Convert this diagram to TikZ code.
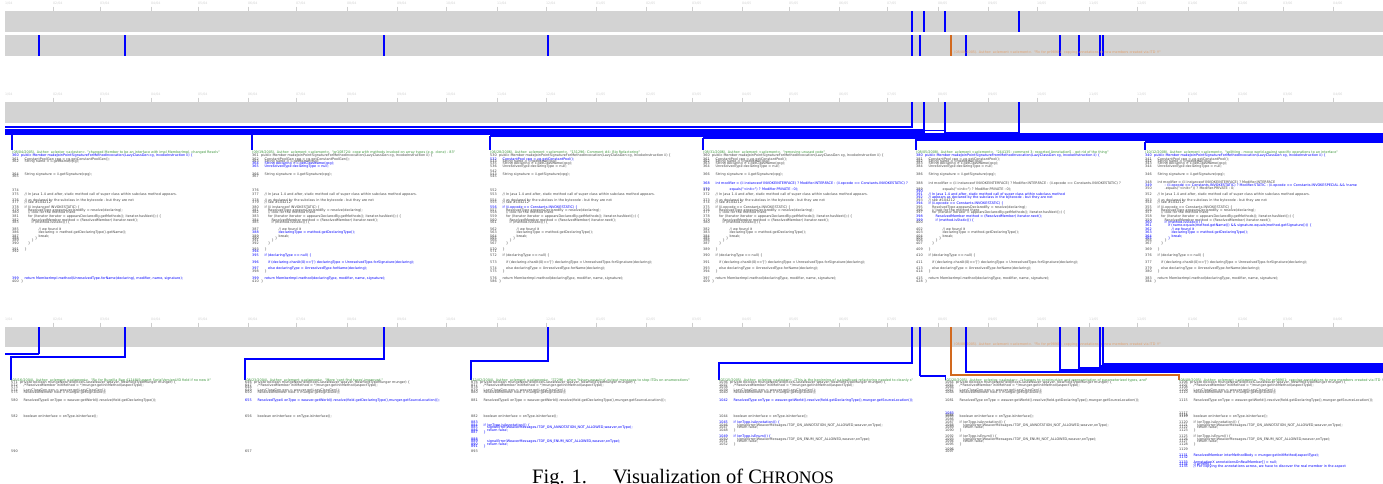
\documentclass[tikz,border=0pt]{standalone}
\usepackage{fontspec}
\setmainfont{Liberation Serif}
\newfontfamily\dejavu{DejaVu Sans}
\definecolor{bargray}{RGB}{211,211,211}
\definecolor{tickgray}{RGB}{205,205,205}
\definecolor{labgray}{RGB}{210,210,210}
\definecolor{codegray}{RGB}{70,70,70}
\definecolor{codeblue}{RGB}{0,0,255}
\definecolor{headgreen}{RGB}{60,150,60}
\definecolor{commitorange}{RGB}{210,105,30}
\definecolor{orangetext}{RGB}{225,160,110}
\newcommand\codefont{\dejavu\fontsize{3.4}{3.4}\selectfont}
\newcommand\labfont{\dejavu\fontsize{3.2}{3.2}\selectfont}
\tikzset{
 cnum/.style={anchor=base west,inner sep=0pt,font=\codefont,text=codegray},
 chead/.style={anchor=base west,inner sep=0pt,font=\codefont,text=headgreen},
 tlab/.style={anchor=base west,inner sep=0pt,font=\labfont,text=labgray},
 bar/.style={fill=bargray,draw=none},
 tickmark/.style={draw=tickgray,line width=1pt},
 commit/.style={draw=codeblue,line width=2pt},
 thincommit/.style={draw=codeblue,line width=1.2pt},
 ocommit/.style={draw=commitorange,line width=2pt},
 band/.style={fill=codeblue,draw=none},
}
\newcommand\cgl[4]{\node[cnum] at (\panx,#1) {#2};\node[cnum] at ({\panx+\pano+3.5*#3},#1) {#4};}
\newcommand\cbl[4]{\node[cnum,text=codeblue] at (\panx,#1) {#2};\node[cnum,text=codeblue] at ({\panx+\pano+3.5*#3},#1) {#4};}
\newcommand\chd[2]{\node[chead] at (\panx,#1) {#2};}
\newcommand\timeaxis[3]{%
 \node[tlab] at (5,#1) {1/04};
 \foreach \xx/\mm/\yy in {53/02/04,100/03/04,151/04/04,198/05/04,248/06/04,296/07/04,347/08/04,397/09/04,446/10/04,497/11/04,546/12/04,596/01/05,646/02/05,692/03/05,742/04/05,789/05/05,839/06/05,887/07/05,938/08/05,988/09/05,1037/10/05,1089/11/05,1137/12/05,1188/01/06,1238/02/06,1283/03/06,1333/04/06}{
  \draw[tickmark] (\xx,#2) -- (\xx,#3);
  \node[tlab] at (\xx,#1) {\mm/\yy};
 }}
\begin{document}
\begin{tikzpicture}[x=1pt,y=-1pt]
\useasboundingbox[fill=white] (0,0) rectangle (1383,483);
% ---------------- top overview ----------------
\timeaxis{4.5}{6.7}{11}
\fill[bar] (5,11) rectangle (1383,32);
\fill[bar] (5,35) rectangle (1383,56);
\foreach \c in {912,924,945,1019} \draw[commit] (\c,11) -- (\c,32);
\foreach \c in {39,125,384,548,912,920,966,1060,1079,1100,1103} \draw[commit] (\c,35) -- (\c,56);
\draw[ocommit] (951,35) -- (951,56);
\node[cnum,text=orangetext] (olab1) at (954,53.5) {(08/08/2005). Author: aclement <aclement>. "Fix for pr98901: copying annotations to new members created via ITD !!"};
% ---------------- middle section ----------------
\timeaxis{95.5}{97.5}{102}
\fill[bar] (5,102) rectangle (1383,123);
\draw[thincommit] (912,102) |- (5,127);
\fill[band] (5,129) rectangle (925,135);
\fill[band] (490,135) rectangle (925,137.3);
\fill[band] (703,137.3) rectangle (944,139.3);
\fill[band] (915,133) rectangle (1383,140.7);
\fill[band] (1145,140.7) rectangle (1383,142.7);
\draw[commit] (924,102) -- (924,131);
\draw[thincommit] (924,130.5) -- (945,130.5);
\draw[commit] (945,102) -- (945,134);
\draw[thincommit] (945,132.3) -- (1019,132.3);
\draw[commit] (1019,102) -- (1019,134);
\draw[commit] (12,134) -- (12,150);
\draw[commit] (252,134) -- (252,150);
\draw[commit] (490,136) -- (490,150);
\draw[commit] (703,138) -- (703,150);
\draw[commit] (916,140) -- (916,150);
\draw[commit] (1145,142) -- (1145,150);
% panel M1
\def\panx{12}\def\pano{9}
\chd{153.3}{(08/04/2005). Author: aclester <aclester>. "changed Member to be an interface with impl MemberImpl, changed Resolv"}
\cbl{156}{360}{0}{public Member makeJoinPointSignatureForMethodInvocation(LazyClassGen cg, InvokeInstruction ii) \{}
\cgl{160}{361}{1}{ConstantPoolGen cpg = cg.getConstantPoolGen();}
\cgl{162.3}{362}{1}{String name = ii.getName(cpg);}
\cgl{175.3}{364}{1}{String signature = ii.getSignature(cpg);}
\cgl{177.7}{365}{1}{}
\cgl{191}{374}{1}{}
\cgl{195.3}{375}{1}{// In Java 1.4 and after, static method call of super class within subclass method appears.}
\cgl{201.7}{376}{1}{// as declared by the subclass in the bytecode - but they are not}
\cgl{203.7}{377}{1}{// see \#104212}
\cgl{208.3}{378}{1}{if (ii instanceof INVOKESTATIC) \{}
\cgl{211}{379}{2}{ResolvedType appearsDeclaredBy = resolve(declaring);}
\cgl{213.3}{380}{2}{// look for the method there}
\cgl{217.7}{381}{2}{for (Iterator iterator = appearsDeclaredBy.getMethods(); iterator.hasNext();) \{}
\cgl{221}{382}{3}{ResolvedMember method = (ResolvedMember) iterator.next();}
\cgl{223.3}{383}{3}{if (method.isStatic()) \{}
\cgl{230.3}{385}{5}{// we found it}
\cgl{233.3}{386}{5}{declaring = method.getDeclaringType().getName();}
\cgl{237}{387}{5}{break;}
\cgl{239.3}{388}{4}{\}}
\cgl{241.7}{389}{3}{\}}
\cgl{244.7}{390}{2}{\}}
\cgl{250}{391}{1}{\}}
\cgl{252}{392}{1}{}
\cbl{279.3}{399}{1}{return MemberImpl.method(UnresolvedType.forName(declaring), modifier, name, signature);}
\cgl{282}{400}{0}{\}}
% panel M2
\def\panx{252}\def\pano{9}
\chd{153.3}{(09/19/2005). Author: aclement <aclement>. "pr108724: cope with methods invoked on array types (e.g. clone) - 83"}
\cgl{156}{361}{0}{public Member makeJoinPointSignatureForMethodInvocation(LazyClassGen cg, InvokeInstruction ii) \{}
\cgl{160}{362}{1}{ConstantPoolGen cpg = cg.getConstantPoolGen();}
\cgl{162.3}{363}{1}{String name = ii.getName(cpg);}
\cbl{164.7}{364}{1}{String declaring = ii.getClassName(cpg);}
\cbl{167}{365}{1}{UnresolvedType declaringType = null;}
\cgl{175.3}{366}{1}{String signature = ii.getSignature(cpg);}
\cgl{177.7}{367}{1}{}
\cgl{191}{376}{1}{}
\cgl{195.3}{377}{1}{// In Java 1.4 and after, static method call of super class within subclass method appears.}
\cgl{201.7}{378}{1}{// as declared by the subclass in the bytecode - but they are not}
\cgl{203.7}{379}{1}{// see \#104212}
\cgl{208.3}{380}{1}{if (ii instanceof INVOKESTATIC) \{}
\cgl{211}{381}{2}{ResolvedType appearsDeclaredBy = resolve(declaring);}
\cgl{213.3}{382}{2}{// look for the method there}
\cgl{217.7}{383}{2}{for (Iterator iterator = appearsDeclaredBy.getMethods(); iterator.hasNext();) \{}
\cgl{221}{384}{3}{ResolvedMember method = (ResolvedMember) iterator.next();}
\cgl{223.3}{385}{3}{if (method.isStatic()) \{}
\cgl{230.3}{387}{5}{// we found it}
\cbl{233.3}{388}{5}{declaringType = method.getDeclaringType();}
\cgl{237}{389}{5}{break;}
\cgl{239.3}{390}{4}{\}}
\cgl{241.7}{391}{3}{\}}
\cgl{244.7}{392}{2}{\}}
\cgl{250}{393}{1}{\}}
\cbl{252}{394}{1}{}
\cbl{256.3}{395}{1}{if (declaringType == null) \{}
\cbl{263.3}{396}{2}{if (declaring.charAt(0)=='[') declaringType = UnresolvedType.forSignature(declaring);}
\cbl{269.3}{397}{2}{else declaringType = UnresolvedType.forName(declaring);}
\cgl{272}{398}{1}{\}}
\cbl{279.3}{399}{1}{return MemberImpl.method(declaringType, modifier, name, signature);}
\cgl{282}{410}{0}{\}}
% panel M3
\def\panx{490}\def\pano{9}
\chd{153.3}{(06/28/2006). Author: aclement <aclement>. "131296: Comment \#4: Big Refactoring"}
\cgl{156}{530}{0}{public Member makeJoinPointSignatureForMethodInvocation(LazyClassGen cg, InvokeInstruction ii) \{}
\cbl{160}{532}{1}{ConstantPool cpg = cg.getConstantPool();}
\cgl{162.3}{533}{1}{String name = ii.getName(cpg);}
\cgl{164.7}{535}{1}{String declaring = ii.getClassName(cpg);}
\cgl{167}{536}{1}{UnresolvedType declaringType = null;}
\cgl{172.7}{542}{1}{}
\cgl{175.3}{543}{1}{String signature = ii.getSignature(cpg);}
\cgl{177.7}{545}{1}{}
\cgl{191}{552}{1}{}
\cgl{195.3}{553}{1}{// In Java 1.4 and after, static method call of super class within subclass method appears.}
\cgl{201.7}{554}{1}{// as declared by the subclass in the bytecode - but they are not}
\cgl{203.7}{555}{1}{// see \#104212}
\cbl{208.3}{556}{1}{if (ii.opcode == Constants.INVOKESTATIC) \{}
\cgl{211}{557}{2}{ResolvedType appearsDeclaredBy = resolve(declaring);}
\cgl{213.3}{558}{2}{// look for the method there}
\cgl{217.7}{559}{2}{for (Iterator iterator = appearsDeclaredBy.getMethods(); iterator.hasNext();) \{}
\cgl{221}{560}{3}{ResolvedMember method = (ResolvedMember) iterator.next();}
\cgl{223.3}{561}{3}{if (method.isStatic()) \{}
\cgl{230.3}{562}{5}{// we found it}
\cgl{233.3}{563}{5}{declaringType = method.getDeclaringType();}
\cgl{237}{564}{5}{break;}
\cgl{239.3}{565}{4}{\}}
\cgl{241.7}{566}{3}{\}}
\cgl{244.7}{567}{2}{\}}
\cgl{250}{570}{1}{\}}
\cgl{252}{571}{1}{}
\cgl{256.3}{572}{1}{if (declaringType == null) \{}
\cgl{263.3}{573}{2}{if (declaring.charAt(0)=='[') declaringType = UnresolvedType.forSignature(declaring);}
\cgl{269.3}{574}{2}{else declaringType = UnresolvedType.forName(declaring);}
\cgl{272}{575}{1}{\}}
\cgl{279.3}{576}{1}{return MemberImpl.method(declaringType, modifier, name, signature);}
\cgl{282}{586}{0}{\}}
% panel M4
\def\panx{703}\def\pano{9}
\chd{153.3}{(08/31/2006). Author: aclement <aclement>. "removing unused code"}
\cgl{156}{360}{0}{public Member makeJoinPointSignatureForMethodInvocation(LazyClassGen cg, InvokeInstruction ii) \{}
\cgl{160}{361}{1}{ConstantPool cpg = cg.getConstantPool();}
\cgl{162.3}{362}{1}{String name = ii.getName(cpg);}
\cgl{164.7}{363}{1}{String declaring = ii.getClassName(cpg);}
\cgl{167}{364}{1}{UnresolvedType declaringType = null;}
\cgl{175.3}{366}{1}{String signature = ii.getSignature(cpg);}
\cbl{184}{368}{1}{int modifier = (ii instanceof INVOKEINTERFACE) ? Modifier.INTERFACE : (ii.opcode == Constants.INVOKESTATIC) ?}
\cbl{190}{370}{5}{equals("<init>") ? Modifier.PRIVATE : 0);}
\cgl{191.5}{371}{1}{}
\cgl{195.3}{372}{1}{// In Java 1.4 and after, static method call of super class within subclass method appears.}
\cgl{201.7}{373}{1}{// as declared by the subclass in the bytecode - but they are not}
\cgl{203.7}{374}{1}{// see \#104212}
\cgl{208.3}{375}{1}{if (ii.opcode == Constants.INVOKESTATIC) \{}
\cgl{211}{376}{2}{ResolvedType appearsDeclaredBy = resolve(declaring);}
\cgl{213.3}{377}{2}{// look for the method there}
\cgl{217.7}{378}{2}{for (Iterator iterator = appearsDeclaredBy.getMethods(); iterator.hasNext();) \{}
\cgl{221}{379}{3}{ResolvedMember method = (ResolvedMember) iterator.next();}
\cgl{223.3}{380}{3}{if (method.isStatic()) \{}
\cgl{230.3}{382}{5}{// we found it}
\cgl{233.3}{383}{5}{declaringType = method.getDeclaringType();}
\cgl{237}{384}{5}{break;}
\cgl{239.3}{385}{4}{\}}
\cgl{241.7}{386}{3}{\}}
\cgl{244.7}{387}{2}{\}}
\cgl{250}{389}{1}{\}}
\cgl{256.3}{390}{1}{if (declaringType == null) \{}
\cgl{263.3}{391}{2}{if (declaring.charAt(0)=='[') declaringType = UnresolvedType.forSignature(declaring);}
\cgl{269.3}{393}{2}{else declaringType = UnresolvedType.forName(declaring);}
\cgl{272}{394}{1}{\}}
\cgl{279.3}{397}{1}{return MemberImpl.method(declaringType, modifier, name, signature);}
\cgl{282}{409}{0}{\}}
% panel M5
\def\panx{916}\def\pano{9}
\chd{153.3}{(08/05/2008). Author: aclement <aclement>. "244135: comment 3: reported Annotation5 - got rid of the thing"}
\cbl{156}{380}{0}{public Member makeJoinPointSignatureFromMethodInvocation(LazyClassGen cg, InvokeInstruction ii) \{}
\cgl{160}{381}{1}{ConstantPool cpg = cg.getConstantPool();}
\cgl{162.3}{382}{1}{String name = ii.getName(cpg);}
\cgl{164.7}{383}{1}{String declaring = ii.getClassName(cpg);}
\cgl{167}{384}{1}{UnresolvedType declaringType = null;}
\cgl{175.3}{386}{1}{String signature = ii.getSignature(cpg);}
\cgl{184}{388}{1}{int modifier = (ii instanceof INVOKEINTERFACE) ? Modifier.INTERFACE : (ii.opcode == Constants.INVOKESTATIC) ?}
\cgl{190}{389}{5}{equals("<init>") ? Modifier.PRIVATE : 0);}
\cbl{192.5}{390}{1}{}
\cbl{195.3}{391}{1}{// In Java 1.4 and after, static method call of super class within subclass method}
\cbl{198}{392}{1}{// appears as declared by the subclass in the bytecode - but they are not}
\cgl{201.7}{393}{1}{// see \#104212}
\cbl{204.5}{394}{1}{if (ii.opcode == Constants.INVOKESTATIC) \{}
\cgl{208.3}{395}{2}{ResolvedType appearsDeclaredBy = resolve(declaring);}
\cgl{211}{396}{2}{// look for the method there}
\cgl{213.3}{397}{2}{for (Iterator iterator = appearsDeclaredBy.getMethods(); iterator.hasNext();) \{}
\cbl{217.7}{398}{3}{ResolvedMember method = (ResolvedMember) iterator.next();}
\cbl{221}{399}{3}{if (method.isStatic()) \{}
\cgl{223.3}{400}{3}{}
\cgl{230.3}{402}{5}{// we found it}
\cgl{233.3}{403}{5}{declaringType = method.getDeclaringType();}
\cgl{237}{404}{5}{break;}
\cgl{239.3}{405}{4}{\}}
\cgl{241.7}{406}{3}{\}}
\cgl{244.7}{407}{2}{\}}
\cgl{250}{409}{1}{\}}
\cgl{256.3}{410}{1}{if (declaringType == null) \{}
\cgl{263.3}{411}{2}{if (declaring.charAt(0)=='[') declaringType = UnresolvedType.forSignature(declaring);}
\cgl{269.3}{413}{2}{else declaringType = UnresolvedType.forName(declaring);}
\cgl{272}{414}{1}{\}}
\cgl{279.3}{415}{1}{return MemberImpl.method(declaringType, modifier, name, signature);}
\cgl{282}{428}{0}{\}}
% panel M6
\def\panx{1145}\def\pano{9}
\chd{153.3}{(10/12/2008). Author: aclement <aclement>. "splitting - move world against specific operations to an interface"}
\cbl{156}{340}{0}{public Member makeJoinPointSignatureForMethodInvocation(LazyClassGen cg, InvokeInstruction ii) \{}
\cgl{160}{341}{1}{ConstantPool cpg = cg.getConstantPool();}
\cgl{162.3}{342}{1}{String name = ii.getName(cpg);}
\cgl{164.7}{343}{1}{String declaring = ii.getClassName(cpg);}
\cgl{167}{344}{1}{UnresolvedType declaringType = null;}
\cgl{175.3}{346}{1}{String signature = ii.getSignature(cpg);}
\cgl{183}{348}{1}{int modifier = (ii instanceof INVOKEINTERFACE) ? Modifier.INTERFACE}
\cbl{186}{349}{3}{: (ii.opcode == Constants.INVOKESTATIC) ? Modifier.STATIC : (ii.opcode == Constants.INVOKESPECIAL \&\& !name}
\cgl{189}{350}{3}{.equals("<init>")) ? Modifier.PRIVATE : 0;}
\cgl{195.3}{352}{1}{// In Java 1.4 and after, static method call of super class within subclass method appears.}
\cgl{201.7}{353}{1}{// as declared by the subclass in the bytecode - but they are not}
\cgl{203.7}{354}{1}{// see \#104212}
\cgl{208.3}{355}{1}{if (ii.opcode == Constants.INVOKESTATIC) \{}
\cgl{211}{356}{2}{ResolvedType appearsDeclaredBy = resolve(declaring);}
\cgl{213.3}{357}{2}{// look for the method there}
\cgl{217.7}{358}{2}{for (Iterator iterator = appearsDeclaredBy.getMethods(); iterator.hasNext();) \{}
\cgl{221}{359}{3}{ResolvedMember method = (ResolvedMember) iterator.next();}
\cbl{223.3}{360}{3}{if (method.isStatic()) \{}
\cbl{226}{361}{4}{if (name.equals(method.getName()) \&\& signature.equals(method.getSignature())) \{}
\cbl{230.3}{362}{5}{// we found it}
\cbl{233.3}{363}{5}{declaringType = method.getDeclaringType();}
\cbl{237}{364}{5}{break;}
\cbl{239.3}{365}{4}{\}}
\cgl{241.7}{366}{3}{\}}
\cgl{244.7}{367}{2}{\}}
\cgl{250}{369}{1}{\}}
\cgl{256.3}{376}{1}{if (declaringType == null) \{}
\cgl{263.3}{377}{2}{if (declaring.charAt(0)=='[') declaringType = UnresolvedType.forSignature(declaring);}
\cgl{269.3}{379}{2}{else declaringType = UnresolvedType.forName(declaring);}
\cgl{272}{380}{1}{\}}
\cgl{279.3}{383}{1}{return MemberImpl.method(declaringType, modifier, name, signature);}
\cgl{282}{384}{0}{\}}
% ---------------- bottom section ----------------
\timeaxis{320.5}{322.5}{327}
\fill[bar] (5,327) rectangle (1383,347);
\node[cnum,text=orangetext] (olab2) at (954,345.5) {(08/08/2005). Author: aclement <aclement>. "Fix for pr98901: copying annotations to new members created via ITD !!"};
\draw[commit] (39,327) -- (39,354);
\draw[thincommit] (39,354) -- (5,354);
\draw[commit] (125,327) |- (11,357.3) -- (11,380);
\draw[commit] (384,327) |- (245,359.3) -- (245,380);
\draw[commit] (548,327) |- (471,361) -- (471,380);
\draw[commit] (912,327) |- (719,362.7) -- (719,380);
\draw[commit] (920,327) -- (920,376);
\draw[thincommit] (920,376) -| (945.5,380);
\draw[commit] (1103,327) |- (1383,364.2);
\draw[commit] (1100,327) |- (1383,366.1);
\draw[commit] (1079,327) |- (1383,368.1);
\draw[commit] (1060,327) |- (1383,370.2);
\draw[commit] (966,327) |- (1383,372.3);
\draw[ocommit] (951,327) |- (1179,374.5) -- (1179,380);
% panel B1
\def\panx{11}\def\pano{9}
\chd{381.5}{(03/16/2004). Author: aclement <aclement>. "Fix for Bugzilla Bug 41148(Support SerialVersionUID field if no new it"}
\cgl{383.7}{571}{0}{private boolean mungeNewField(BcelClassWeaver weaver, NewFieldTypeMunger munger) \{}
\cgl{386}{572}{1}{/*ResolvedMember initMethod = */munger.getInitMethod(aspectType);}
\cgl{388.7}{573}{1}{}
\cgl{391}{574}{1}{LazyClassGen gen = weaver.getLazyClassGen();}
\cgl{393.3}{575}{1}{ResolvedMember field = munger.getSignature();}
\cgl{401.7}{580}{1}{ResolvedTypeX onType = weaver.getWorld().resolve(field.getDeclaringType());}
\cgl{417.7}{582}{1}{boolean onInterface = onType.isInterface();}
\cgl{452.7}{590}{1}{}
% panel B2
\def\panx{245}\def\pano{9}
\chd{381.5}{(08/23/2004). Author: aclement <aclement>. "More 'cant find types' improved."}
\cgl{383.7}{646}{0}{private boolean mungeNewField(BcelClassWeaver weaver, NewFieldTypeMunger munger) \{}
\cgl{386}{647}{1}{/*ResolvedMember initMethod = */munger.getInitMethod(aspectType);}
\cgl{388.7}{648}{1}{}
\cgl{391}{649}{1}{LazyClassGen gen = weaver.getLazyClassGen();}
\cgl{393.3}{650}{1}{ResolvedMember field = munger.getSignature();}
\cbl{401.7}{655}{1}{ResolvedTypeX onType = weaver.getWorld().resolve(field.getDeclaringType(),munger.getSourceLocation());}
\cgl{417.7}{656}{1}{boolean onInterface = onType.isInterface();}
\cgl{452.7}{657}{1}{}
% panel B3
\def\panx{471}\def\pano{9}
\chd{381.5}{(12/02/2004). Author: aclement <aclement>. "77296 - when "binary weaving" output messages to stop ITDs on enumerations"}
\cgl{383.7}{876}{0}{private boolean mungeNewField(BcelClassWeaver weaver, NewFieldTypeMunger munger) \{}
\cgl{386}{877}{1}{/*ResolvedMember initMethod = */munger.getInitMethod(aspectType);}
\cgl{388.7}{878}{1}{}
\cgl{391}{879}{1}{LazyClassGen gen = weaver.getLazyClassGen();}
\cgl{393.3}{880}{1}{ResolvedMember field = munger.getSignature();}
\cgl{401.7}{881}{1}{ResolvedTypeX onType = weaver.getWorld().resolve(field.getDeclaringType(),munger.getSourceLocation());}
\cgl{417.7}{882}{1}{boolean onInterface = onType.isInterface();}
\cbl{423.7}{883}{1}{}
\cbl{426}{884}{1}{if (onType.isAnnotation()) \{}
\cbl{428.3}{885}{2}{signalError(WeaverMessages.ITDF\_ON\_ANNOTATION\_NOT\_ALLOWED,weaver,onType);}
\cbl{431}{886}{2}{return false;}
\cbl{433.3}{887}{1}{\}}
\cbl{440.3}{888}{1}{}
\cbl{442.7}{889}{2}{signalError(WeaverMessages.ITDF\_ON\_ENUM\_NOT\_ALLOWED,weaver,onType);}
\cbl{445}{890}{2}{return false;}
\cbl{447.3}{891}{1}{\}}
\cgl{452.7}{893}{1}{}
% panel B4
\def\panx{719}\def\pano{11}
\chd{381.5}{(07/15/2005). Author: aclester <aclester>. "This is the beginning of a significant refactoring needed to cleanly s"}
\cgl{383.7}{1036}{0}{private boolean mungeNewField(BcelClassWeaver weaver, NewFieldTypeMunger munger) \{}
\cgl{386}{1037}{1}{/*ResolvedMember initMethod = */munger.getInitMethod(aspectType);}
\cgl{388.7}{1038}{1}{}
\cgl{391}{1039}{1}{LazyClassGen gen = weaver.getLazyClassGen();}
\cgl{393.3}{1040}{1}{ResolvedMember field = munger.getSignature();}
\cbl{401.7}{1042}{1}{ResolvedType onType = weaver.getWorld().resolve(field.getDeclaringType(),munger.getSourceLocation());}
\cgl{417.7}{1044}{1}{boolean onInterface = onType.isInterface();}
\cbl{423.7}{1045}{1}{if (onType.isAnnotation()) \{}
\cgl{426}{1046}{2}{signalError(WeaverMessages.ITDF\_ON\_ANNOTATION\_NOT\_ALLOWED,weaver,onType);}
\cgl{428.3}{1047}{2}{return false;}
\cgl{431}{1048}{1}{\}}
\cbl{437.7}{1049}{1}{if (onType.isEnum()) \{}
\cgl{440.3}{1050}{2}{signalError(WeaverMessages.ITDF\_ON\_ENUM\_NOT\_ALLOWED,weaver,onType);}
\cgl{442.7}{1051}{2}{return false;}
\cgl{445}{1052}{1}{\}}
% panel B5
\def\panx{945}\def\pano{11}
\chd{381.5}{(07/20/2005). Author: aclester <aclester>. "changes to construction and representation of parameterized types, and"}
\cgl{383.7}{1064}{0}{private boolean mungeNewField(BcelClassWeaver weaver, NewFieldTypeMunger munger) \{}
\cgl{386}{1065}{1}{/*ResolvedMember initMethod = */munger.getInitMethod(aspectType);}
\cgl{388.7}{1066}{1}{}
\cgl{391}{1067}{1}{LazyClassGen gen = weaver.getLazyClassGen();}
\cgl{393.3}{1068}{1}{ResolvedMember field = munger.getSignature();}
\cgl{401.7}{1081}{1}{ResolvedType onType = weaver.getWorld().resolve(field.getDeclaringType(),munger.getSourceLocation());}
\cbl{414.3}{1083}{1}{}
\cgl{416}{1084}{1}{}
\cgl{417.7}{1085}{1}{boolean onInterface = onType.isInterface();}
\cgl{420.3}{1086}{1}{}
\cgl{423.7}{1087}{1}{if (onType.isAnnotation()) \{}
\cgl{426}{1088}{2}{signalError(WeaverMessages.ITDF\_ON\_ANNOTATION\_NOT\_ALLOWED,weaver,onType);}
\cgl{428.3}{1089}{2}{return false;}
\cgl{431}{1090}{1}{\}}
\cgl{437.7}{1092}{1}{if (onType.isEnum()) \{}
\cgl{440.3}{1093}{2}{signalError(WeaverMessages.ITDF\_ON\_ENUM\_NOT\_ALLOWED,weaver,onType);}
\cgl{442.7}{1094}{2}{return false;}
\cgl{445}{1095}{1}{\}}
\cgl{450.3}{1096}{1}{}
\cgl{452.7}{1097}{1}{}
% panel B6
\def\panx{1179}\def\pano{11}
\chd{381.5}{(08/08/2005). Author: aclement <aclement>. "Fix for pr98901: copying annotations to new members created via ITD !!"}
\cgl{383.7}{1106}{0}{private boolean mungeNewField(BcelClassWeaver weaver, NewFieldTypeMunger munger) \{}
\cgl{386}{1107}{1}{/*ResolvedMember initMethod = */munger.getInitMethod(aspectType);}
\cgl{388.7}{1108}{1}{}
\cgl{391}{1109}{1}{LazyClassGen gen = weaver.getLazyClassGen();}
\cgl{393.3}{1110}{1}{ResolvedMember field = munger.getSignature();}
\cgl{401.7}{1115}{1}{ResolvedType onType = weaver.getWorld().resolve(field.getDeclaringType(),munger.getSourceLocation());}
\cgl{414.3}{1117}{1}{}
\cgl{416}{1118}{1}{}
\cgl{417.7}{1119}{1}{boolean onInterface = onType.isInterface();}
\cgl{423.7}{1120}{1}{if (onType.isAnnotation()) \{}
\cgl{426}{1121}{2}{signalError(WeaverMessages.ITDF\_ON\_ANNOTATION\_NOT\_ALLOWED,weaver,onType);}
\cgl{428.3}{1122}{2}{return false;}
\cgl{431}{1123}{1}{\}}
\cgl{437.7}{1125}{1}{if (onType.isEnum()) \{}
\cgl{440.3}{1126}{2}{signalError(WeaverMessages.ITDF\_ON\_ENUM\_NOT\_ALLOWED,weaver,onType);}
\cgl{442.7}{1127}{2}{return false;}
\cgl{445}{1128}{1}{\}}
\cgl{450.3}{1129}{1}{}
\cbl{456.7}{1131}{1}{ResolvedMember interMethodBody = munger.getInitMethod(aspectType);}
\cbl{458.8}{1132}{1}{}
\cbl{463.3}{1133}{1}{AnnotationX annotationsOnRealMember[] = null;}
\cbl{465.5}{1134}{1}{// pr98901}
\cbl{467.7}{1135}{1}{// For copying the annotations across, we have to discover the real member in the aspect}
% ---------------- caption ----------------
\node[anchor=base west,inner sep=0pt,font=\fontsize{20.5}{20.5}\selectfont] (caption) at (532,483.3) {Fig. 1.\hspace{26pt}Visualization of C{\fontsize{17.5}{17.5}\selectfont HRONOS}};
\end{tikzpicture}
\end{document}
